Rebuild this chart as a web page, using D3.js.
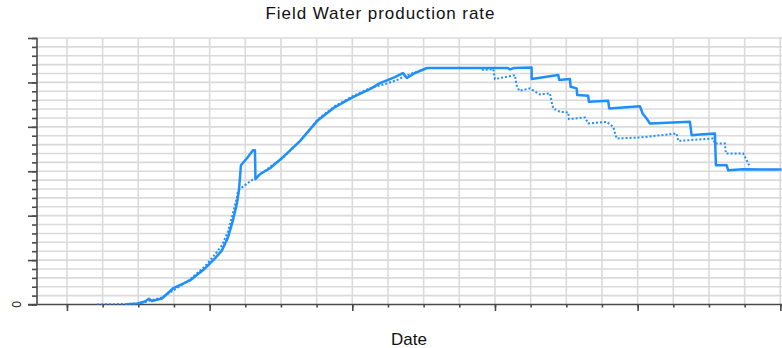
<!DOCTYPE html>
<html>
<head>
<meta charset="utf-8">
<script src="https://cdn.jsdelivr.net/npm/d3@7"></script>
<style>
  html, body { margin: 0; padding: 0; background: #fff; }
  svg { display: block; }
</style>
</head>
<body>
<svg id="chart" width="782" height="348"></svg>
<script>
// ---- Data (dates as decimal years, rate values) ----
const title = "Field Water production rate";
const xLabel = "Date";
const yTickLabels = ["0"];

const solidDates = [2001.626, 2001.794, 2001.990, 2002.187, 2002.299, 2002.383, 2002.663, 2002.972, 2003.448, 2003.869,
  2004.149, 2004.345, 2004.514, 2004.654, 2004.766, 2004.822, 2004.878, 2005.046, 2005.215, 2005.271,
  2005.285, 2005.411, 2005.691, 2006.056, 2006.532, 2007.037, 2007.513, 2008.018, 2008.495, 2008.775,
  2009.195, 2009.420, 2009.532, 2009.756, 2010.093, 2012.364, 2012.420, 2012.532, 2013.028, 2013.030,
  2013.774, 2013.802, 2014.102, 2014.121, 2014.290, 2014.306, 2014.615, 2014.634, 2015.175, 2015.203,
  2016.064, 2016.140, 2016.252, 2016.345, 2017.466, 2017.514, 2017.747, 2018.167, 2018.195, 2018.495,
  2018.540, 2018.960, 2019.521, 2020.037];
const solidRates = [0, 11, 23, 68, 129, 79, 135, 361, 541, 812,
  1038, 1218, 1511, 1895, 2278, 2571, 3135, 3293, 3474, 3474,
  2820, 2932, 3068, 3316, 3677, 4150, 4444, 4669, 4850, 4985,
  5120, 5211, 5098, 5211, 5324, 5324, 5294, 5324, 5335, 5075,
  5165, 5053, 5075, 4902, 4865, 4714, 4698, 4563, 4586, 4414,
  4466, 4301, 4189, 4076, 4112, 3812, 3828, 3850, 3135, 3135,
  3022, 3045, 3038, 3038];

const dottedDates = [2000.841, 2001.205, 2001.626, 2002.019, 2002.187, 2002.327, 2002.663, 2003.028, 2003.448, 2003.869,
  2004.149, 2004.345, 2004.514, 2004.654, 2004.766, 2004.794, 2005.411, 2006.056, 2006.532, 2007.037,
  2007.513, 2008.018, 2008.495, 2008.915, 2009.252, 2009.476, 2010.093, 2011.579, 2011.671, 2011.952,
  2011.999, 2012.560, 2012.607, 2012.680, 2012.980, 2013.260, 2013.541, 2013.589, 2013.633, 2013.821,
  2014.054, 2014.073, 2014.522, 2014.615, 2015.131, 2015.316, 2015.411, 2016.064, 2017.093, 2017.138,
  2018.119, 2018.167, 2018.447, 2018.475, 2018.960, 2019.035, 2019.128];
const dottedRates = [0, 5, 11, 23, 56, 90, 158, 338, 564, 857,
  1128, 1331, 1647, 2053, 2414, 2571, 2932, 3304, 3677, 4173,
  4466, 4692, 4872, 4962, 5053, 5143, 5324, 5324, 5279, 5301,
  5075, 5165, 4940, 4811, 4865, 4730, 4753, 4563, 4414, 4338,
  4324, 4173, 4211, 4076, 4112, 3999, 3738, 3760, 3850, 3683,
  3738, 3625, 3625, 3399, 3399, 3286, 3135];

const xMajorTicks = [2000, 2004, 2008, 2012, 2016, 2020];
const xMinorTicks = d3.range(2000, 2021, 1);
const yMajorTicks = [0, 1000, 2000, 3000, 4000, 5000, 6000];
const yMinorTicks = d3.range(0, 6001, 200);

// ---- Layout ----
const svg = d3.select("#chart");
const mLeft = 37, mRight = 781, mTop = 38, mBottom = 304.5;
const x = d3.scaleLinear().domain([1999.16, 2020.02]).range([mLeft, mRight]);
const y = d3.scaleLinear().domain([0, 6000]).range([mBottom, mTop]);

const lineColor = "#1e8fff";
const gridColor = "#dadada";
const axisColor = "#4a4a4a";

// Gridlines
const grid = svg.append("g");
grid.selectAll(".vg").data(xMinorTicks).join("line")
  .attr("x1", d => x(d)).attr("x2", d => x(d))
  .attr("y1", mTop).attr("y2", mBottom)
  .attr("stroke", gridColor).attr("stroke-width", 1.6);
grid.selectAll(".hg").data(yMinorTicks.filter(d => d > 0)).join("line")
  .attr("x1", mLeft).attr("x2", mRight + 1)
  .attr("y1", d => y(d)).attr("y2", d => y(d))
  .attr("stroke", gridColor).attr("stroke-width", 1.6);

// Axes
const xMinorAxis = d3.axisBottom(x).tickValues(xMinorTicks).tickSize(3).tickFormat("");
const xMajorAxis = d3.axisBottom(x).tickValues(xMajorTicks).tickSize(6.5).tickFormat("");
const yMinorAxis = d3.axisLeft(y).tickValues(yMinorTicks).tickSize(5).tickFormat("");
const yMajorAxis = d3.axisLeft(y).tickValues(yMajorTicks).tickSize(9).tickFormat("");

function styleAxis(g) {
  g.selectAll("path").attr("stroke", axisColor).attr("stroke-width", 1.6);
  g.selectAll("line").attr("stroke", axisColor).attr("stroke-width", 1.6);
}
svg.append("g").attr("transform", `translate(0,${mBottom})`).call(xMinorAxis).call(styleAxis)
  .select(".domain").remove();
svg.append("g").attr("transform", `translate(0,${mBottom})`).call(xMajorAxis).call(styleAxis)
  .select(".domain").remove();
svg.append("g").attr("transform", `translate(${mLeft},0)`).call(yMinorAxis).call(styleAxis)
  .select(".domain").remove();
svg.append("g").attr("transform", `translate(${mLeft},0)`).call(yMajorAxis).call(styleAxis)
  .select(".domain").remove();
// axis lines
svg.append("line").attr("x1", mLeft).attr("x2", mLeft).attr("y1", mTop).attr("y2", mBottom)
  .attr("stroke", axisColor).attr("stroke-width", 1.6);
svg.append("line").attr("x1", mLeft - 9).attr("x2", 782).attr("y1", mBottom).attr("y2", mBottom)
  .attr("stroke", axisColor).attr("stroke-width", 1.6);

// Y tick label "0" (rotated)
svg.selectAll(".ylab").data(yTickLabels).join("text")
  .attr("transform", `translate(20.5,${y(0)}) rotate(-90)`)
  .attr("text-anchor", "middle")
  .attr("font-family", "Liberation Sans, Arial, sans-serif")
  .attr("font-size", 12)
  .attr("fill", "#222")
  .text(d => d);

// Clip
svg.append("clipPath").attr("id", "clip").append("rect")
  .attr("x", mLeft).attr("y", mTop - 3).attr("width", mRight - mLeft + 2).attr("height", mBottom - mTop + 3);

const line = d3.line().x(d => x(d[0])).y(d => y(d[1]));
const solidData = d3.zip(solidDates, solidRates);
const dottedData = d3.zip(dottedDates, dottedRates);

const plot = svg.append("g").attr("clip-path", "url(#clip)");
plot.append("path").datum(dottedData)
  .attr("d", line).attr("fill", "none")
  .attr("stroke", lineColor).attr("stroke-width", 2)
  .attr("stroke-dasharray", "2,2");
plot.append("path").datum(solidData)
  .attr("d", line).attr("fill", "none")
  .attr("stroke", lineColor).attr("stroke-width", 2.5)
  .attr("stroke-linejoin", "round");

// Title and axis label
svg.append("text").attr("x", 380).attr("y", 19)
  .attr("text-anchor", "middle")
  .attr("font-family", "Liberation Sans, Arial, sans-serif")
  .attr("font-size", 17)
  .attr("fill", "#111")
  .attr("textLength", 229).attr("lengthAdjust", "spacing")
  .text(title);
svg.append("text").attr("x", 409).attr("y", 345)
  .attr("text-anchor", "middle")
  .attr("font-family", "Liberation Sans, Arial, sans-serif")
  .attr("font-size", 17)
  .attr("fill", "#111")
  .text(xLabel);
</script>
</body>
</html>
